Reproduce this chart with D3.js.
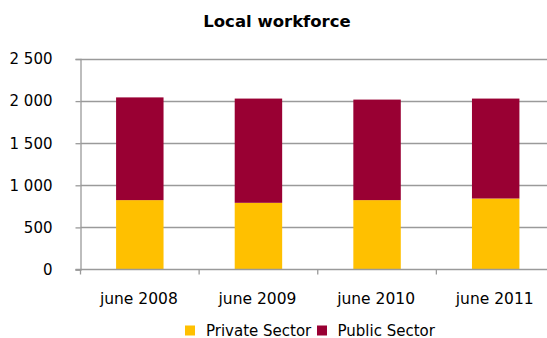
<!DOCTYPE html>
<html>
<head>
<meta charset="utf-8">
<script src="https://cdn.jsdelivr.net/npm/d3@7"></script>
<style>
  html, body { margin: 0; padding: 0; background: #fff; }
  svg { display: block; font-family: "DejaVu Sans", Verdana, sans-serif; }
</style>
</head>
<body>
<svg id="chart" width="547" height="338"></svg>
<script>
// Local workforce by sector, June of each year
const categories = ["june 2008", "june 2009", "june 2010", "june 2011"];
const privateSector = [824, 792, 824, 843];
const publicSector = [1220, 1238, 1194, 1187];
const seriesNames = ["Private Sector", "Public Sector"];
const yTicks = [0, 500, 1000, 1500, 2000, 2500];

const colors = { "Private Sector": "#FFC000", "Public Sector": "#990033" };

const svg = d3.select("#chart");
const W = 547, H = 338;
const plot = { left: 80.5, right: 555, top: 59, bottom: 269.5 };

const rows = categories.map((c, i) => ({
  category: c,
  "Private Sector": privateSector[i],
  "Public Sector": publicSector[i]
}));
const stacked = d3.stack().keys(seriesNames)(rows);

const x = d3.scaleBand().domain(categories).range([plot.left, plot.right]).paddingInner(0.6).paddingOuter(0.3);
const xOuter = d3.scaleBand().domain(categories).range([plot.left, plot.right]);
const y = d3.scaleLinear().domain([0, 2500]).range([plot.bottom, plot.top]);

const fmt = v => d3.format(",")(v).replace(/,/g, " ");

// Title
svg.append("text")
  .attr("x", 277).attr("y", 27)
  .attr("text-anchor", "middle")
  .attr("font-weight", "bold")
  .attr("font-size", 16.5)
  .attr("fill", "#000")
  .text("Local workforce");

// Horizontal gridlines
svg.append("g")
  .selectAll("line")
  .data(yTicks.filter(t => t > 0))
  .join("line")
  .attr("x1", plot.left).attr("x2", W)
  .attr("y1", d => Math.round(y(d)) + 0.5).attr("y2", d => Math.round(y(d)) + 0.5)
  .attr("stroke", "#9a9a9a").attr("stroke-width", 1.3);

// Y axis
const yAxis = d3.axisLeft(y).tickValues(yTicks).tickSize(5).tickPadding(23).tickFormat(fmt);
const gy = svg.append("g").attr("transform", `translate(${plot.left},0)`).call(yAxis);
gy.select(".domain").attr("stroke", "#9a9a9a").attr("stroke-width", 1.3);
gy.selectAll(".tick line").attr("stroke", "#9a9a9a").attr("stroke-width", 1.3);
gy.selectAll(".tick text").attr("font-size", 15).attr("fill", "#000")
  .attr("font-family", "DejaVu Sans, Verdana, sans-serif");

// Stacked bars
svg.append("g")
  .selectAll("g")
  .data(stacked)
  .join("g")
  .attr("fill", d => colors[d.key])
  .selectAll("rect")
  .data(d => d)
  .join("rect")
  .attr("x", d => x(d.data.category))
  .attr("width", x.bandwidth())
  .attr("y", d => y(d[1]))
  .attr("height", d => y(d[0]) - y(d[1]));

// X axis with ticks at category boundaries
const gx = svg.append("g").attr("transform", `translate(0,${plot.bottom})`);
gx.append("line")
  .attr("x1", plot.left - 5).attr("x2", W)
  .attr("y1", 0).attr("y2", 0)
  .attr("stroke", "#9a9a9a").attr("stroke-width", 1.3);
gx.selectAll("line.tick")
  .data(categories)
  .join("line")
  .attr("class", "tick")
  .attr("x1", d => xOuter(d)).attr("x2", d => xOuter(d))
  .attr("y1", 0).attr("y2", 5)
  .attr("stroke", "#9a9a9a").attr("stroke-width", 1.3);
gx.selectAll("text")
  .data(categories)
  .join("text")
  .attr("x", d => x(d) + x.bandwidth() / 2 - 1)
  .attr("y", 34.5)
  .attr("text-anchor", "middle")
  .attr("font-size", 15.5)
  .attr("fill", "#000")
  .text(d => d);

// Legend
const legendItems = [
  { name: "Private Sector", sx: 185, tx: 206 },
  { name: "Public Sector", sx: 317, tx: 337.5 }
];
const lg = svg.append("g");
lg.selectAll("rect")
  .data(legendItems)
  .join("rect")
  .attr("x", d => d.sx).attr("y", 325.5)
  .attr("width", 10).attr("height", 10)
  .attr("fill", d => colors[d.name]);
lg.selectAll("text")
  .data(legendItems)
  .join("text")
  .attr("x", d => d.tx).attr("y", 335.5)
  .attr("font-size", 15)
  .attr("fill", "#000")
  .text(d => d.name);
</script>
</body>
</html>
